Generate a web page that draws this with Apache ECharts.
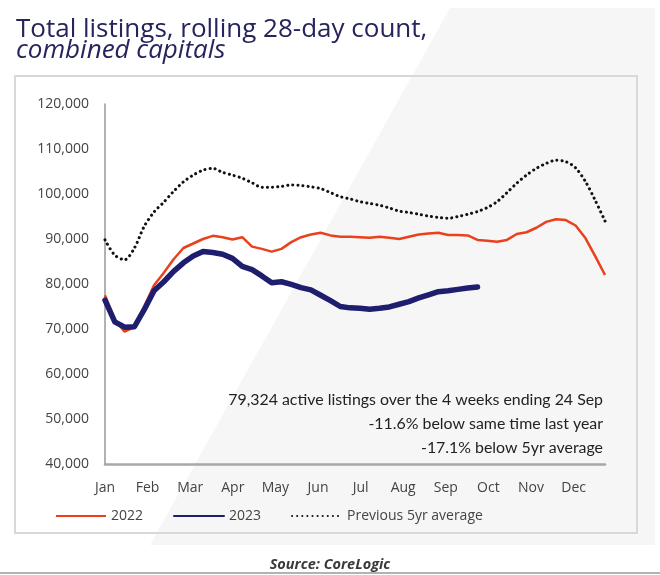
<!DOCTYPE html>
<html>
<head>
<meta charset="utf-8">
<script src="https://cdn.jsdelivr.net/npm/echarts@6/dist/echarts.min.js"></script>
<style>
html,body{margin:0;padding:0;background:#fff;}
#chart{width:660px;height:575px;}
</style>
</head>
<body>
<div id="chart"></div>
<script>
// ---- data (weekly, rolling 28-day count, week 0 = start of Jan) ----
var MONTHS = ['Jan','Feb','Mar','Apr','May','Jun','Jul','Aug','Sep','Oct','Nov','Dec'];
var Y_TICKS_MIN = 40000, Y_TICKS_MAX = 120000, Y_TICK_STEP = 10000;
var SERIES_NAMES = ['2022', '2023', 'Previous 5yr average'];

var values2022 = [77500,72000,69400,70400,75000,79700,82500,85500,88000,89000,
  90000,90700,90400,89900,90400,88300,87800,87200,87800,89300,
  90400,91000,91400,90800,90500,90500,90400,90300,90500,90300,
  90000,90500,91000,91200,91400,90900,90900,90800,89800,89600,
  89400,89800,91100,91500,92500,93800,94400,94200,93000,90200,
  86200,82000];

var values2023 = [76400,71600,70400,70500,74300,78500,80500,82800,84700,86200,
  87200,87000,86600,85700,83900,83200,81800,80300,80500,79900,
  79200,78700,77500,76300,75000,74700,74600,74400,74600,74900,
  75500,76100,76900,77600,78300,78500,78800,79100,79324];

var values5yr = [89800,86400,85400,88000,92800,96000,98200,100600,102700,104200,
  105300,105700,104800,104200,103500,102500,101500,101500,101700,102000,
  101900,101600,101200,100300,99400,98900,98300,97900,97500,96900,
  96200,95900,95500,95100,94800,94600,95000,95500,96100,97000,
  98300,100300,102400,104200,105700,106800,107500,107200,105800,102800,
  98600,94000];

var annotationLines = [
  '79,324 active listings over the 4 weeks ending 24 Sep',
  '-11.6% below same time last year',
  '-17.1% below 5yr average'
];

// week index -> month position on the x axis
var DAYS_PER_MONTH = 365 / 12;
function toPoints(arr) {
  return arr.map(function (v, i) { return [i * 7 / DAYS_PER_MONTH, v]; });
}
var xMax = (values2022.length - 1) * 7 / DAYS_PER_MONTH;

var chart = echarts.init(document.getElementById('chart'));
var labelFont = '"Open Sans", sans-serif';

chart.setOption({
  backgroundColor: '#ffffff',
  animation: false,
  title: {
    text: 'Total listings, rolling 28-day count,',
    subtext: 'combined capitals',
    left: 11,
    top: 13,
    itemGap: -5,
    textStyle: { fontFamily: labelFont, fontSize: 26, fontWeight: 'normal', color: '#25245c', lineHeight: 24 },
    subtextStyle: { fontFamily: labelFont, fontSize: 26, fontStyle: 'italic', color: '#25245c', lineHeight: 24 }
  },
  graphic: [
    {
      type: 'polygon', z: -10, silent: true,
      shape: { points: [[450, 8], [655, 8], [655, 545], [150, 545]] },
      style: { fill: '#f6f6f6' }
    },
    {
      type: 'rect', z: -5, silent: true,
      shape: { x: 15, y: 76, width: 622, height: 457 },
      style: { fill: 'none', stroke: '#d8d8d8', lineWidth: 2 }
    },
    {
      type: 'line', silent: true,
      shape: { x1: 0, y1: 573, x2: 660, y2: 573 },
      style: { stroke: '#666', lineWidth: 1 }
    },
    {
      type: 'text', silent: true, left: 'center', top: 557,
      style: { text: 'Source: CoreLogic', fontFamily: labelFont, fontSize: 14.5, fontWeight: 'bold', fontStyle: 'italic', fill: '#3a3a3a' }
    },
    {
      type: 'group', right: 57, top: 392,
      children: annotationLines.map(function (t, i) {
        return {
          type: 'text', silent: true,
          style: { text: t, x: 0, y: i * 24, textAlign: 'right', fontFamily: 'Lato, sans-serif', fontSize: 15.9, fill: '#222' }
        };
      })
    }
  ],
  legend: {
    left: 50,
    top: 504,
    itemWidth: 50,
    itemHeight: 14,
    itemGap: 30,
    itemStyle: { opacity: 0 },
    textStyle: { fontFamily: labelFont, fontSize: 14, color: '#444' },
    data: SERIES_NAMES
  },
  grid: { left: 105, top: 104, right: 55, bottom: 111 },
  xAxis: {
    type: 'value',
    min: 0,
    max: xMax,
    interval: 1,
    axisLine: { lineStyle: { color: '#a8a8a8', width: 2.5 } },
    axisTick: { show: false },
    splitLine: { show: false },
    axisLabel: {
      margin: 17,
      showMaxLabel: false,
      fontFamily: labelFont, fontSize: 14, color: '#444',
      formatter: function (v) {
        var r = Math.round(v);
        return Math.abs(v - r) < 1e-6 && MONTHS[r] ? MONTHS[r] : '';
      }
    }
  },
  yAxis: {
    type: 'value',
    min: Y_TICKS_MIN,
    max: Y_TICKS_MAX,
    interval: Y_TICK_STEP,
    axisLine: { show: true, lineStyle: { color: '#999', width: 1.5 } },
    axisTick: { show: false },
    splitLine: { show: false },
    axisLabel: {
      margin: 16,
      fontFamily: labelFont, fontSize: 14, color: '#444',
      formatter: function (v) { return v.toLocaleString('en-US'); }
    }
  },
  series: [
    {
      name: SERIES_NAMES[2], type: 'line', symbol: 'none', smooth: 0.3, z: 2,
      data: toPoints(values5yr),
      itemStyle: { color: '#111' },
      lineStyle: { color: '#111', width: 3, type: [0.1, 5], cap: 'round' }
    },
    {
      name: SERIES_NAMES[0], type: 'line', symbol: 'none', z: 3,
      data: toPoints(values2022),
      itemStyle: { color: '#e8411c' },
      lineStyle: { color: '#e8411c', width: 2.5 }
    },
    {
      name: SERIES_NAMES[1], type: 'line', symbol: 'none', z: 4,
      data: toPoints(values2023),
      itemStyle: { color: '#1f1d6e' },
      lineStyle: { color: '#1f1d6e', width: 5.5, cap: 'round', join: 'round' }
    }
  ]
});
</script>
</body>
</html>
